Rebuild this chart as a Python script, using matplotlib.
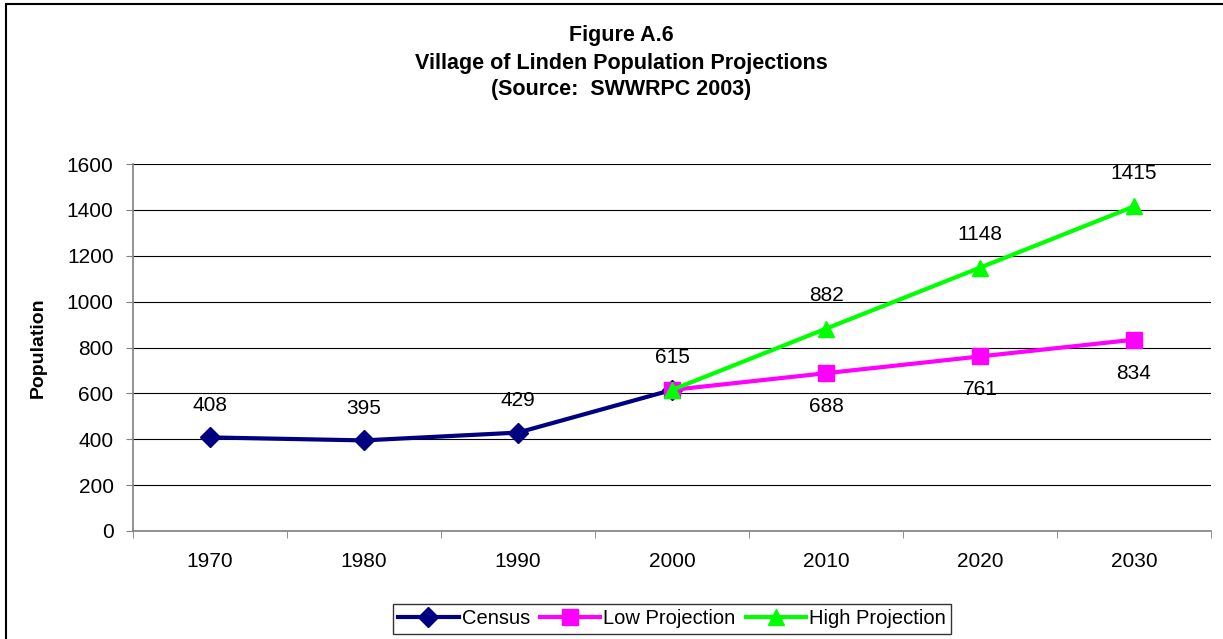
import matplotlib.pyplot as plt
from matplotlib.patches import Rectangle

plt.rcParams['font.family'] = ['Liberation Sans', 'DejaVu Sans']

years = ['1970', '1980', '1990', '2000', '2010', '2020', '2030']
census = [408, 395, 429, 615]
low = [615, 688, 761, 834]
high = [615, 882, 1148, 1415]

census_x = [0, 1, 2, 3]
proj_x = [3, 4, 5, 6]

fig = plt.figure(figsize=(12.23, 6.39), dpi=100)
ax = fig.add_axes([133 / 1223, 108 / 639, (1211 - 133) / 1223, (531 - 164) / 639])

# outer chart border
fig.patches.append(Rectangle((6 / 1223, -0.02), 1.05, (639 - 4) / 639 + 0.02,
                             transform=fig.transFigure, fill=False,
                             edgecolor='black', linewidth=1.5))

ax.plot(census_x, census, color='#000080', lw=3, marker='D', ms=10,
        label='Census', zorder=3)
ax.plot(proj_x, low, color='#ff00ff', lw=3, marker='s', ms=12,
        label='Low Projection', zorder=4)
ax.plot(proj_x, high, color='#00ff00', lw=3, marker='^', ms=11,
        label='High Projection', zorder=5)

# data labels
fs = 15
for x, v in zip(census_x, census):
    ax.annotate(str(v), (x, v), xytext=(0, 23), textcoords='offset points',
                ha='center', va='center', fontsize=fs)
for x, v in zip(proj_x[1:], low[1:]):
    ax.annotate(str(v), (x, v), xytext=(0, -24), textcoords='offset points',
                ha='center', va='center', fontsize=fs)
for x, v in zip(proj_x[1:], high[1:]):
    ax.annotate(str(v), (x, v), xytext=(0, 24), textcoords='offset points',
                ha='center', va='center', fontsize=fs)

ax.set_xlim(-0.5, 6.5)
ax.set_ylim(0, 1600)
ax.set_yticks(range(0, 1601, 200))
ax.set_xticks(range(len(years)))
ax.set_xticklabels(years)
ax.set_xticks([i - 0.5 for i in range(len(years) + 1)], minor=True)
ax.tick_params(axis='x', which='major', length=0, labelsize=fs, pad=15)
ax.tick_params(axis='x', which='minor', length=5, direction='out', color='#808080')
ax.tick_params(axis='y', length=5, direction='out', color='#808080',
               labelsize=fs, pad=9)

ax.grid(axis='y', color='black', lw=0.8)
ax.set_axisbelow(True)
for s in ['top', 'right']:
    ax.spines[s].set_visible(False)
for s in ['left', 'bottom']:
    ax.spines[s].set_color('#808080')
    ax.spines[s].set_linewidth(1.2)

ax.set_ylabel('Population', fontsize=14, fontweight='bold', labelpad=14)

fig.text(0.508, 1 - 36 / 639, 'Figure A.6', ha='center', va='center',
         fontsize=15.5, fontweight='bold')
fig.text(0.508, 1 - 63 / 639, 'Village of Linden Population Projections',
         ha='center', va='center', fontsize=15.5, fontweight='bold')
fig.text(0.508, 1 - 90 / 639, '(Source:  SWWRPC 2003)', ha='center',
         va='center', fontsize=15.5, fontweight='bold')

leg = ax.legend(loc='center', bbox_to_anchor=(672 / 1223, (639 - 619) / 639),
                bbox_transform=fig.transFigure, ncol=3, fontsize=14.5,
                frameon=True, fancybox=False, edgecolor='black',
                handlelength=3.0, handletextpad=0.15, columnspacing=0.5,
                borderpad=0.25, borderaxespad=0)
leg.get_frame().set_linewidth(1)

fig.savefig('out.png', dpi=100)
